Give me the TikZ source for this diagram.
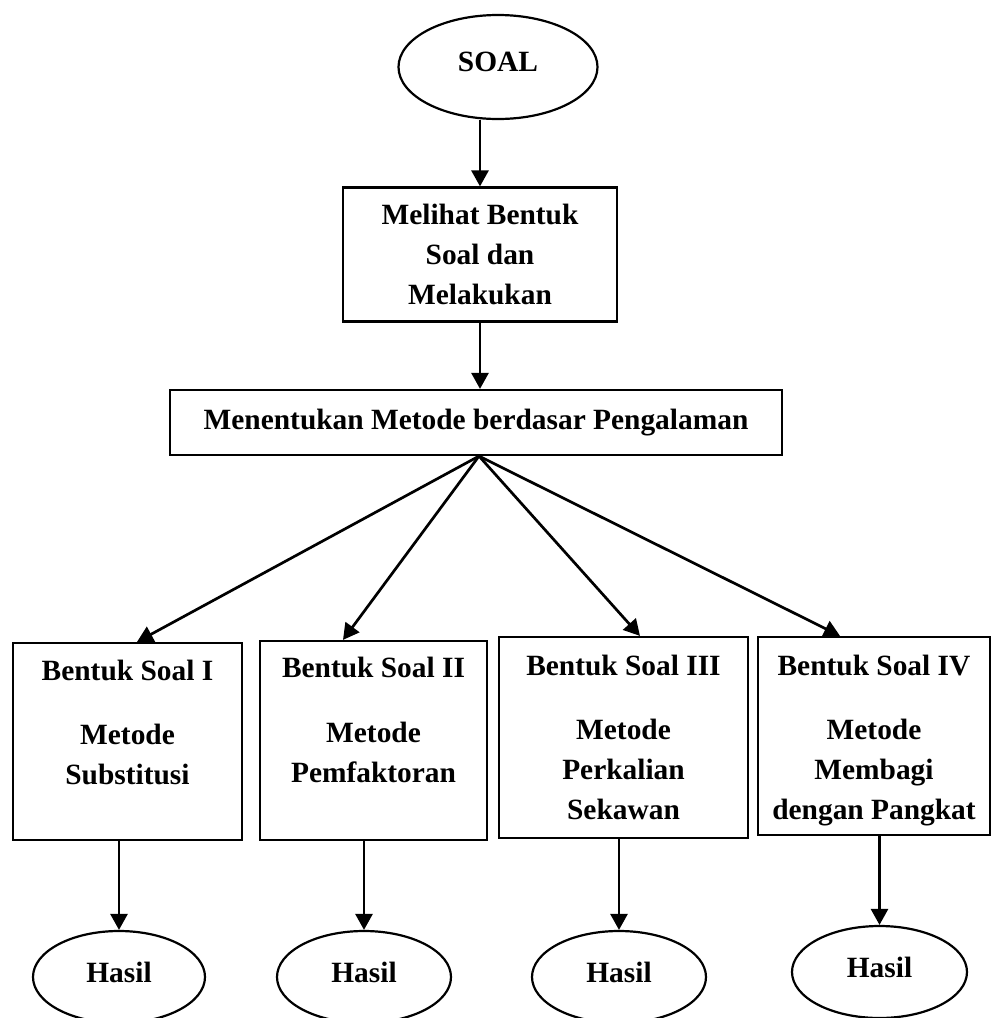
\documentclass[tikz,border=0pt]{standalone}
\usepackage{fontspec}
\setmainfont{Liberation Serif}
\usetikzlibrary{arrows.meta,shapes.geometric}
\begin{document}
\begin{tikzpicture}[x=0.5pt,y=-0.5pt,
  font=\fontsize{14.7pt}{20pt}\selectfont\bfseries,
  boxshape/.style={draw,line width=1.1pt,rectangle,inner sep=0pt,align=center},
  ovalshape/.style={draw,line width=1.1pt,ellipse,inner sep=0pt,text depth=5pt},
  arr/.style={line width=1.35pt,-{Triangle[length=8pt,width=8.5pt]}}]
\useasboundingbox (0,0) rectangle (992,1018);
% top
\node[ovalshape,minimum width=99.5pt,minimum height=52pt] (soal) at (498,67) {SOAL};
\node[boxshape,minimum width=137pt,minimum height=67pt] (melihat) at (480,254.5) {Melihat Bentuk\\Soal dan\\Melakukan};
\node[boxshape,minimum width=306pt,minimum height=32.5pt] (menentukan) at (476,422.5) {Menentukan Metode berdasar Pengalaman};
% method boxes
\node[boxshape] (b1) at (127.5,741.5) {\parbox[c][98.5pt][t]{114.5pt}{\centering\rule{0pt}{18.5pt}Bentuk Soal I\\[12pt]Metode\\Substitusi}};
\node[boxshape] (b2) at (373.5,740.5) {\parbox[c][99.5pt][t]{113.5pt}{\centering\rule{0pt}{18pt}Bentuk Soal II\\[12.5pt]Metode\\Pemfaktoran}};
\node[boxshape] (b3) at (623.5,737.5) {\parbox[c][100.5pt][t]{124.5pt}{\centering\rule{0pt}{19pt}Bentuk Soal III\\[12pt]Metode\\Perkalian\\Sekawan}};
\node[boxshape] (b4) at (874,736) {\parbox[c][99pt][t]{116pt}{\centering\rule{0pt}{19pt}Bentuk Soal IV\\[12pt]Metode\\Membagi\\dengan Pangkat}};
% results
\node[ovalshape,minimum width=86pt,minimum height=46pt] (h1) at (119,977) {Hasil};
\node[ovalshape,minimum width=87pt,minimum height=46pt] (h2) at (364,977) {Hasil};
\node[ovalshape,minimum width=87pt,minimum height=46pt] (h3) at (619,977) {Hasil};
\node[ovalshape,minimum width=87.5pt,minimum height=46pt] (h4) at (879.5,972) {Hasil};
% connectors
\draw[arr] (soal.south -| melihat.north) -- (melihat.north);
\draw[arr] (melihat.south) -- (melihat.south |- menentukan.north);
\coordinate (br) at ([xshift=1.5pt]menentukan.south);
\draw[arr] (br) -- ([xshift=4.75pt]b1.north);
\draw[arr] (br) -- ([xshift=-15.25pt]b2.north);
\draw[arr] (br) -- ([xshift=8.25pt]b3.north);
\draw[arr] (br) -- ([xshift=-17pt]b4.north);
\draw[arr] (b1.south -| h1.north) -- (h1.north);
\draw[arr] (b2.south -| h2.north) -- (h2.north);
\draw[arr] (b3.south -| h3.north) -- (h3.north);
\draw[arr] (b4.south -| h4.north) -- (h4.north);
\end{tikzpicture}
\end{document}
